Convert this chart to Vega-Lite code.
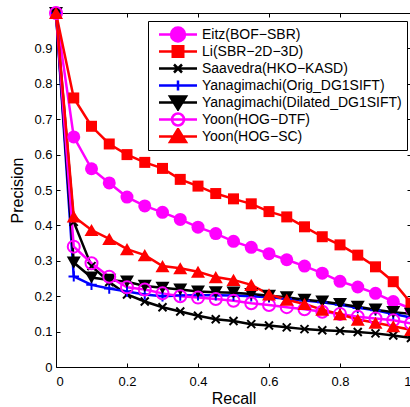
{
"$schema": "https://vega.github.io/schema/vega-lite/v6.json",
"width": 355, "height": 354,
"autosize": {"type": "none"},
"padding": {"left": 56, "top": 13, "right": 0, "bottom": 40},
"background": "white",
"data": {"values": [
{"method":"Eitz(BOF−SBR)","recall":0,"precision":1.0},{"method":"Eitz(BOF−SBR)","recall":0.05,"precision":0.65},{"method":"Eitz(BOF−SBR)","recall":0.1,"precision":0.56},{"method":"Eitz(BOF−SBR)","recall":0.15,"precision":0.52},{"method":"Eitz(BOF−SBR)","recall":0.2,"precision":0.48},{"method":"Eitz(BOF−SBR)","recall":0.25,"precision":0.455},{"method":"Eitz(BOF−SBR)","recall":0.3,"precision":0.437},{"method":"Eitz(BOF−SBR)","recall":0.35,"precision":0.417},{"method":"Eitz(BOF−SBR)","recall":0.4,"precision":0.395},{"method":"Eitz(BOF−SBR)","recall":0.45,"precision":0.377},{"method":"Eitz(BOF−SBR)","recall":0.5,"precision":0.355},{"method":"Eitz(BOF−SBR)","recall":0.55,"precision":0.338},{"method":"Eitz(BOF−SBR)","recall":0.6,"precision":0.32},{"method":"Eitz(BOF−SBR)","recall":0.65,"precision":0.303},{"method":"Eitz(BOF−SBR)","recall":0.7,"precision":0.285},{"method":"Eitz(BOF−SBR)","recall":0.75,"precision":0.265},{"method":"Eitz(BOF−SBR)","recall":0.8,"precision":0.242},{"method":"Eitz(BOF−SBR)","recall":0.85,"precision":0.226},{"method":"Eitz(BOF−SBR)","recall":0.9,"precision":0.208},{"method":"Eitz(BOF−SBR)","recall":0.95,"precision":0.185},{"method":"Eitz(BOF−SBR)","recall":1,"precision":0.165},
{"method":"Li(SBR−2D−3D)","recall":0,"precision":1.0},{"method":"Li(SBR−2D−3D)","recall":0.05,"precision":0.76},{"method":"Li(SBR−2D−3D)","recall":0.1,"precision":0.68},{"method":"Li(SBR−2D−3D)","recall":0.15,"precision":0.63},{"method":"Li(SBR−2D−3D)","recall":0.2,"precision":0.6},{"method":"Li(SBR−2D−3D)","recall":0.25,"precision":0.578},{"method":"Li(SBR−2D−3D)","recall":0.3,"precision":0.561},{"method":"Li(SBR−2D−3D)","recall":0.35,"precision":0.53},{"method":"Li(SBR−2D−3D)","recall":0.4,"precision":0.511},{"method":"Li(SBR−2D−3D)","recall":0.45,"precision":0.49},{"method":"Li(SBR−2D−3D)","recall":0.5,"precision":0.475},{"method":"Li(SBR−2D−3D)","recall":0.55,"precision":0.461},{"method":"Li(SBR−2D−3D)","recall":0.6,"precision":0.439},{"method":"Li(SBR−2D−3D)","recall":0.65,"precision":0.424},{"method":"Li(SBR−2D−3D)","recall":0.7,"precision":0.396},{"method":"Li(SBR−2D−3D)","recall":0.75,"precision":0.368},{"method":"Li(SBR−2D−3D)","recall":0.8,"precision":0.345},{"method":"Li(SBR−2D−3D)","recall":0.85,"precision":0.316},{"method":"Li(SBR−2D−3D)","recall":0.9,"precision":0.283},{"method":"Li(SBR−2D−3D)","recall":0.95,"precision":0.241},{"method":"Li(SBR−2D−3D)","recall":1,"precision":0.18},
{"method":"Saavedra(HKO−KASD)","recall":0,"precision":1.0},{"method":"Saavedra(HKO−KASD)","recall":0.05,"precision":0.41},{"method":"Saavedra(HKO−KASD)","recall":0.1,"precision":0.285},{"method":"Saavedra(HKO−KASD)","recall":0.15,"precision":0.24},{"method":"Saavedra(HKO−KASD)","recall":0.2,"precision":0.205},{"method":"Saavedra(HKO−KASD)","recall":0.25,"precision":0.185},{"method":"Saavedra(HKO−KASD)","recall":0.3,"precision":0.169},{"method":"Saavedra(HKO−KASD)","recall":0.35,"precision":0.157},{"method":"Saavedra(HKO−KASD)","recall":0.4,"precision":0.145},{"method":"Saavedra(HKO−KASD)","recall":0.45,"precision":0.135},{"method":"Saavedra(HKO−KASD)","recall":0.5,"precision":0.13},{"method":"Saavedra(HKO−KASD)","recall":0.55,"precision":0.121},{"method":"Saavedra(HKO−KASD)","recall":0.6,"precision":0.117},{"method":"Saavedra(HKO−KASD)","recall":0.65,"precision":0.112},{"method":"Saavedra(HKO−KASD)","recall":0.7,"precision":0.107},{"method":"Saavedra(HKO−KASD)","recall":0.75,"precision":0.104},{"method":"Saavedra(HKO−KASD)","recall":0.8,"precision":0.102},{"method":"Saavedra(HKO−KASD)","recall":0.85,"precision":0.099},{"method":"Saavedra(HKO−KASD)","recall":0.9,"precision":0.095},{"method":"Saavedra(HKO−KASD)","recall":0.95,"precision":0.089},{"method":"Saavedra(HKO−KASD)","recall":1,"precision":0.082},
{"method":"Yanagimachi(Orig_DG1SIFT)","recall":0,"precision":1.0},{"method":"Yanagimachi(Orig_DG1SIFT)","recall":0.05,"precision":0.256},{"method":"Yanagimachi(Orig_DG1SIFT)","recall":0.1,"precision":0.232},{"method":"Yanagimachi(Orig_DG1SIFT)","recall":0.15,"precision":0.222},{"method":"Yanagimachi(Orig_DG1SIFT)","recall":0.2,"precision":0.213},{"method":"Yanagimachi(Orig_DG1SIFT)","recall":0.25,"precision":0.205},{"method":"Yanagimachi(Orig_DG1SIFT)","recall":0.3,"precision":0.2},{"method":"Yanagimachi(Orig_DG1SIFT)","recall":0.35,"precision":0.202},{"method":"Yanagimachi(Orig_DG1SIFT)","recall":0.4,"precision":0.203},{"method":"Yanagimachi(Orig_DG1SIFT)","recall":0.45,"precision":0.203},{"method":"Yanagimachi(Orig_DG1SIFT)","recall":0.5,"precision":0.202},{"method":"Yanagimachi(Orig_DG1SIFT)","recall":0.55,"precision":0.2},{"method":"Yanagimachi(Orig_DG1SIFT)","recall":0.6,"precision":0.197},{"method":"Yanagimachi(Orig_DG1SIFT)","recall":0.65,"precision":0.193},{"method":"Yanagimachi(Orig_DG1SIFT)","recall":0.7,"precision":0.188},{"method":"Yanagimachi(Orig_DG1SIFT)","recall":0.75,"precision":0.183},{"method":"Yanagimachi(Orig_DG1SIFT)","recall":0.8,"precision":0.176},{"method":"Yanagimachi(Orig_DG1SIFT)","recall":0.85,"precision":0.167},{"method":"Yanagimachi(Orig_DG1SIFT)","recall":0.9,"precision":0.16},{"method":"Yanagimachi(Orig_DG1SIFT)","recall":0.95,"precision":0.15},{"method":"Yanagimachi(Orig_DG1SIFT)","recall":1,"precision":0.14},
{"method":"Yanagimachi(Dilated_DG1SIFT)","recall":0,"precision":1.0},{"method":"Yanagimachi(Dilated_DG1SIFT)","recall":0.05,"precision":0.295},{"method":"Yanagimachi(Dilated_DG1SIFT)","recall":0.1,"precision":0.253},{"method":"Yanagimachi(Dilated_DG1SIFT)","recall":0.15,"precision":0.246},{"method":"Yanagimachi(Dilated_DG1SIFT)","recall":0.2,"precision":0.241},{"method":"Yanagimachi(Dilated_DG1SIFT)","recall":0.25,"precision":0.229},{"method":"Yanagimachi(Dilated_DG1SIFT)","recall":0.3,"precision":0.224},{"method":"Yanagimachi(Dilated_DG1SIFT)","recall":0.35,"precision":0.219},{"method":"Yanagimachi(Dilated_DG1SIFT)","recall":0.4,"precision":0.213},{"method":"Yanagimachi(Dilated_DG1SIFT)","recall":0.45,"precision":0.211},{"method":"Yanagimachi(Dilated_DG1SIFT)","recall":0.5,"precision":0.21},{"method":"Yanagimachi(Dilated_DG1SIFT)","recall":0.55,"precision":0.206},{"method":"Yanagimachi(Dilated_DG1SIFT)","recall":0.6,"precision":0.201},{"method":"Yanagimachi(Dilated_DG1SIFT)","recall":0.65,"precision":0.197},{"method":"Yanagimachi(Dilated_DG1SIFT)","recall":0.7,"precision":0.19},{"method":"Yanagimachi(Dilated_DG1SIFT)","recall":0.75,"precision":0.185},{"method":"Yanagimachi(Dilated_DG1SIFT)","recall":0.8,"precision":0.178},{"method":"Yanagimachi(Dilated_DG1SIFT)","recall":0.85,"precision":0.17},{"method":"Yanagimachi(Dilated_DG1SIFT)","recall":0.9,"precision":0.162},{"method":"Yanagimachi(Dilated_DG1SIFT)","recall":0.95,"precision":0.155},{"method":"Yanagimachi(Dilated_DG1SIFT)","recall":1,"precision":0.15},
{"method":"Yoon(HOG−DTF)","recall":0,"precision":1.0},{"method":"Yoon(HOG−DTF)","recall":0.05,"precision":0.34},{"method":"Yoon(HOG−DTF)","recall":0.1,"precision":0.293},{"method":"Yoon(HOG−DTF)","recall":0.15,"precision":0.255},{"method":"Yoon(HOG−DTF)","recall":0.2,"precision":0.225},{"method":"Yoon(HOG−DTF)","recall":0.25,"precision":0.219},{"method":"Yoon(HOG−DTF)","recall":0.3,"precision":0.208},{"method":"Yoon(HOG−DTF)","recall":0.35,"precision":0.2},{"method":"Yoon(HOG−DTF)","recall":0.4,"precision":0.196},{"method":"Yoon(HOG−DTF)","recall":0.45,"precision":0.192},{"method":"Yoon(HOG−DTF)","recall":0.5,"precision":0.187},{"method":"Yoon(HOG−DTF)","recall":0.55,"precision":0.18},{"method":"Yoon(HOG−DTF)","recall":0.6,"precision":0.175},{"method":"Yoon(HOG−DTF)","recall":0.65,"precision":0.169},{"method":"Yoon(HOG−DTF)","recall":0.7,"precision":0.163},{"method":"Yoon(HOG−DTF)","recall":0.75,"precision":0.156},{"method":"Yoon(HOG−DTF)","recall":0.8,"precision":0.15},{"method":"Yoon(HOG−DTF)","recall":0.85,"precision":0.142},{"method":"Yoon(HOG−DTF)","recall":0.9,"precision":0.137},{"method":"Yoon(HOG−DTF)","recall":0.95,"precision":0.132},{"method":"Yoon(HOG−DTF)","recall":1,"precision":0.123},
{"method":"Yoon(HOG−SC)","recall":0,"precision":1.0},{"method":"Yoon(HOG−SC)","recall":0.05,"precision":0.425},{"method":"Yoon(HOG−SC)","recall":0.1,"precision":0.387},{"method":"Yoon(HOG−SC)","recall":0.15,"precision":0.362},{"method":"Yoon(HOG−SC)","recall":0.2,"precision":0.333},{"method":"Yoon(HOG−SC)","recall":0.25,"precision":0.316},{"method":"Yoon(HOG−SC)","recall":0.3,"precision":0.285},{"method":"Yoon(HOG−SC)","recall":0.35,"precision":0.279},{"method":"Yoon(HOG−SC)","recall":0.4,"precision":0.269},{"method":"Yoon(HOG−SC)","recall":0.45,"precision":0.254},{"method":"Yoon(HOG−SC)","recall":0.5,"precision":0.246},{"method":"Yoon(HOG−SC)","recall":0.55,"precision":0.232},{"method":"Yoon(HOG−SC)","recall":0.6,"precision":0.205},{"method":"Yoon(HOG−SC)","recall":0.65,"precision":0.19},{"method":"Yoon(HOG−SC)","recall":0.7,"precision":0.178},{"method":"Yoon(HOG−SC)","recall":0.75,"precision":0.162},{"method":"Yoon(HOG−SC)","recall":0.8,"precision":0.149},{"method":"Yoon(HOG−SC)","recall":0.85,"precision":0.134},{"method":"Yoon(HOG−SC)","recall":0.9,"precision":0.125},{"method":"Yoon(HOG−SC)","recall":0.95,"precision":0.115},{"method":"Yoon(HOG−SC)","recall":1,"precision":0.105}
]},
"config": {
  "view": {"stroke": "black", "strokeWidth": 1},
  "font": "Liberation Sans",
  "axis": {"domain": false, "grid": false, "ticks": true, "tickSize": -4, "tickColor": "black", "tickWidth": 1, "labelColor": "black", "labelFont": "Liberation Sans", "labelFontSize": 13, "titleFont": "Liberation Sans", "titleFontSize": 16, "titleFontWeight": "normal", "titleColor": "black"},
  "legend": {"orient": "none", "legendX": 92, "legendY": 8, "strokeColor": "black", "fillColor": "white", "padding": 5, "symbolOffset": 18, "labelOffset": 17, "rowPadding": 0, "clipHeight": 17, "labelFont": "Liberation Sans", "labelFontSize": 14, "labelColor": "black", "labelLimit": 0, "symbolSize": 100, "symbolStrokeWidth": 2.5, "symbolOpacity": 1}
},
"layer": [
  {"mark": {"type": "line", "strokeWidth": 2.5},
   "encoding": {
     "x": {"field": "recall", "type": "quantitative", "scale": {"domain": [0, 1], "nice": false, "zero": false},
           "axis": {"orient": "bottom", "values": [0, 0.2, 0.4, 0.6, 0.8, 1], "format": "~g", "title": "Recall", "labelPadding": 12, "titlePadding": 2}},
     "y": {"field": "precision", "type": "quantitative", "scale": {"domain": [0, 1], "nice": false},
           "axis": {"orient": "left", "values": [0, 0.1, 0.2, 0.3, 0.4, 0.5, 0.6, 0.7, 0.8, 0.9], "format": "~g", "title": "Precision", "labelPadding": 8, "titlePadding": 8}},
     "stroke": {"field": "method", "type": "nominal", "title": null,
       "scale": {"domain": ["Eitz(BOF−SBR)", "Li(SBR−2D−3D)", "Saavedra(HKO−KASD)", "Yanagimachi(Orig_DG1SIFT)", "Yanagimachi(Dilated_DG1SIFT)", "Yoon(HOG−DTF)", "Yoon(HOG−SC)"], "range": ["#ff00ff", "#ff0000", "#000000", "#0000ff", "#000000", "#ff00ff", "#ff0000"]}}
   }},
  {"transform": [{"filter": "datum.method == 'Eitz(BOF−SBR)'"}],
   "mark": {"type": "point", "shape": "circle", "filled": true, "color": "#ff00ff", "size": 169, "opacity": 1},
   "encoding": {
     "x": {"field": "recall", "type": "quantitative", "axis": {"orient": "top", "values": [0, 0.2, 0.4, 0.6, 0.8, 1], "labels": false, "title": null}},
     "y": {"field": "precision", "type": "quantitative", "axis": {"orient": "right", "values": [0, 0.1, 0.2, 0.3, 0.4, 0.5, 0.6, 0.7, 0.8, 0.9], "labels": false, "title": null}}
   }},
  {"transform": [{"filter": "datum.method == 'Li(SBR−2D−3D)'"}],
   "mark": {"type": "point", "shape": "square", "filled": true, "color": "#ff0000", "size": 121, "opacity": 1},
   "encoding": {"x": {"field": "recall", "type": "quantitative", "axis": null}, "y": {"field": "precision", "type": "quantitative", "axis": null}}},
  {"transform": [{"filter": "datum.method == 'Saavedra(HKO−KASD)'"}],
   "mark": {"type": "point", "shape": "M-1,-1L1,1M-1,1L1,-1", "filled": false, "color": "#000000", "size": 64, "strokeWidth": 2, "opacity": 1},
   "encoding": {"x": {"field": "recall", "type": "quantitative", "axis": null}, "y": {"field": "precision", "type": "quantitative", "axis": null}}},
  {"transform": [{"filter": "datum.method == 'Yanagimachi(Orig_DG1SIFT)'"}],
   "mark": {"type": "point", "shape": "M-1,0L1,0M0,-1L0,1", "filled": false, "color": "#0000ff", "size": 110, "strokeWidth": 2, "opacity": 1},
   "encoding": {"x": {"field": "recall", "type": "quantitative", "axis": null}, "y": {"field": "precision", "type": "quantitative", "axis": null}}},
  {"transform": [{"filter": "datum.method == 'Yanagimachi(Dilated_DG1SIFT)'"}],
   "mark": {"type": "point", "shape": "triangle-down", "filled": true, "color": "#000000", "size": 196, "opacity": 1},
   "encoding": {"x": {"field": "recall", "type": "quantitative", "axis": null}, "y": {"field": "precision", "type": "quantitative", "axis": null}}},
  {"transform": [{"filter": "datum.method == 'Yoon(HOG−DTF)'"}],
   "mark": {"type": "point", "shape": "circle", "filled": false, "color": "#ff00ff", "size": 144, "strokeWidth": 2, "opacity": 1},
   "encoding": {"x": {"field": "recall", "type": "quantitative", "axis": null}, "y": {"field": "precision", "type": "quantitative", "axis": null}}},
  {"transform": [{"filter": "datum.method == 'Yoon(HOG−SC)'"}],
   "mark": {"type": "point", "shape": "triangle-up", "filled": true, "color": "#ff0000", "size": 196, "opacity": 1},
   "encoding": {"x": {"field": "recall", "type": "quantitative", "axis": null}, "y": {"field": "precision", "type": "quantitative", "axis": null}}},
  {"transform": [{"filter": "datum.recall == 0"}],
   "mark": {"type": "point", "opacity": 0, "size": 100},
   "encoding": {
     "x": {"field": "recall", "type": "quantitative", "axis": null},
     "y": {"field": "precision", "type": "quantitative", "axis": null},
     "fill": {"field": "method", "type": "nominal", "title": null,
       "scale": {"domain": ["Eitz(BOF−SBR)", "Li(SBR−2D−3D)", "Saavedra(HKO−KASD)", "Yanagimachi(Orig_DG1SIFT)", "Yanagimachi(Dilated_DG1SIFT)", "Yoon(HOG−DTF)", "Yoon(HOG−SC)"],
                 "range": ["#ff00ff", "#ff0000", "transparent", "transparent", "#000000", "transparent", "#ff0000"]}},
     "shape": {"field": "method", "type": "nominal", "title": null,
       "scale": {"domain": ["Eitz(BOF−SBR)", "Li(SBR−2D−3D)", "Saavedra(HKO−KASD)", "Yanagimachi(Orig_DG1SIFT)", "Yanagimachi(Dilated_DG1SIFT)", "Yoon(HOG−DTF)", "Yoon(HOG−SC)"],
                 "range": ["M-3.8,0L3.8,0M1.4,0A1.4,1.4,0,1,1,-1.4,0A1.4,1.4,0,1,1,1.4,0Z",
                           "M-3.8,0L3.8,0M-1.05,-1.05L1.05,-1.05L1.05,1.05L-1.05,1.05Z",
                           "M-3.8,0L3.8,0M-0.8,-0.8L0.8,0.8M-0.8,0.8L0.8,-0.8",
                           "M-3.8,0L3.8,0M0,-1L0,1",
                           "M-3.8,0L3.8,0M-1.6,-1.2L1.6,-1.2L0,1.4Z",
                           "M-3.8,0L3.8,0M1.2,0A1.2,1.2,0,1,1,-1.2,0A1.2,1.2,0,1,1,1.2,0Z",
                           "M-3.8,0L3.8,0M0,-1.5L1.6,1.1L-1.6,1.1Z"]}}
   }}
],
"resolve": {"axis": {"x": "independent", "y": "independent"}}
}
